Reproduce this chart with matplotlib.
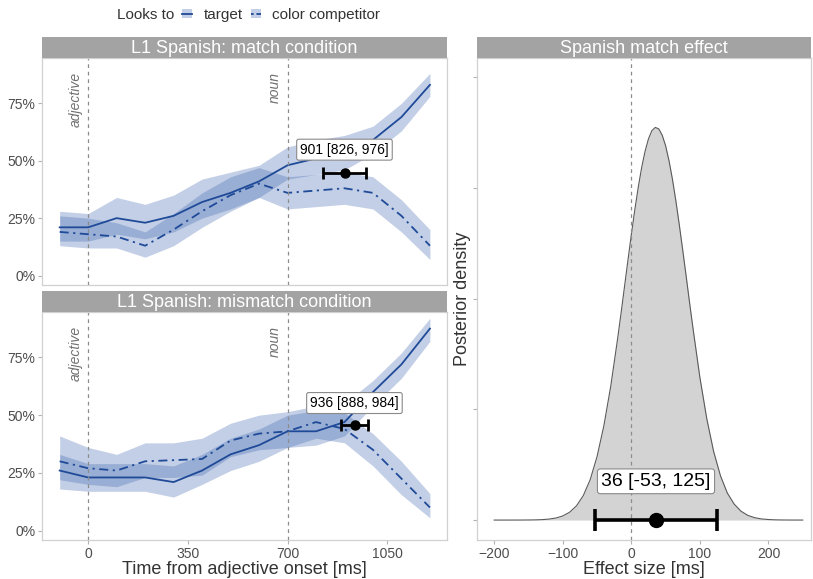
import numpy as np
import matplotlib
matplotlib.use("Agg")
import matplotlib.pyplot as plt
from matplotlib.patches import Patch
from matplotlib.lines import Line2D

plt.rcParams['font.family'] = ['Liberation Sans', 'DejaVu Sans']

# time bins (ms from adjective onset)
t_ms = [-100, 0, 100, 200, 300, 400, 500, 600, 700, 800, 900, 1000, 1100, 1200]

# match condition
match_target = [0.21, 0.21, 0.25, 0.23, 0.26, 0.32, 0.36, 0.41, 0.48, 0.51, 0.53, 0.59, 0.69, 0.83]
match_target_lo = [0.15, 0.15, 0.18, 0.16, 0.19, 0.25, 0.29, 0.34, 0.42, 0.44, 0.46, 0.53, 0.63, 0.78]
match_target_hi = [0.28, 0.27, 0.34, 0.31, 0.35, 0.42, 0.45, 0.48, 0.56, 0.59, 0.61, 0.65, 0.75, 0.88]
match_comp = [0.19, 0.18, 0.17, 0.13, 0.20, 0.28, 0.35, 0.40, 0.36, 0.37, 0.38, 0.36, 0.26, 0.13]
match_comp_lo = [0.13, 0.12, 0.12, 0.08, 0.13, 0.21, 0.28, 0.34, 0.29, 0.30, 0.31, 0.29, 0.19, 0.07]
match_comp_hi = [0.26, 0.25, 0.23, 0.19, 0.27, 0.36, 0.43, 0.47, 0.43, 0.44, 0.45, 0.43, 0.33, 0.20]

# mismatch condition
mis_target = [0.26, 0.23, 0.23, 0.23, 0.21, 0.26, 0.33, 0.37, 0.43, 0.43, 0.47, 0.60, 0.72, 0.875]
mis_target_lo = [0.18, 0.17, 0.17, 0.17, 0.145, 0.20, 0.26, 0.30, 0.36, 0.37, 0.41, 0.54, 0.66, 0.82]
mis_target_hi = [0.33, 0.29, 0.29, 0.29, 0.28, 0.33, 0.40, 0.44, 0.50, 0.52, 0.55, 0.65, 0.77, 0.92]
mis_comp = [0.30, 0.27, 0.26, 0.30, 0.305, 0.31, 0.39, 0.42, 0.43, 0.47, 0.44, 0.35, 0.225, 0.10]
mis_comp_lo = [0.22, 0.20, 0.19, 0.23, 0.23, 0.24, 0.32, 0.35, 0.36, 0.40, 0.38, 0.28, 0.155, 0.055]
mis_comp_hi = [0.41, 0.36, 0.33, 0.38, 0.38, 0.40, 0.465, 0.50, 0.515, 0.54, 0.51, 0.42, 0.30, 0.16]

# divergence point estimates [ms]: estimate, lower, upper
match_div = [901, 826, 976]
mis_div = [936, 888, 984]
match_div_y = 0.4485
mis_div_y = 0.458

# posterior of the match effect (density in 1e-3 units)
eff_x = [-200, -190, -180, -170, -160, -150, -140, -130, -120, -110,
         -100, -90, -80, -70, -60, -50, -40, -30, -20, -15,
         -10, -5, 0, 5, 10, 15, 20, 25, 30, 35,
         40, 45, 50, 55, 60, 65, 70, 75, 80, 85,
         90, 100, 110, 120, 130, 140, 150, 160, 170, 180,
         190, 200, 210, 220, 230, 240, 250]
eff_dens = [0.0, 0.0, 0.0001, 0.0003, 0.0007, 0.0017, 0.0042, 0.0098, 0.022, 0.046,
            0.092, 0.176, 0.32, 0.553, 0.91, 1.43, 2.13, 3.02, 4.09, 4.665,
            5.26, 5.854, 6.44, 6.993, 7.50, 7.95, 8.32, 8.604, 8.79, 8.863,
            8.83, 8.689, 8.45, 8.109, 7.69, 7.202, 6.66, 6.089, 5.50, 4.901,
            4.32, 3.22, 2.29, 1.55, 1.00, 0.61, 0.36, 0.199, 0.105, 0.053,
            0.025, 0.012, 0.005, 0.002, 0.0008, 0.0003, 0.0001]
effect = [36, -53, 125]

line_c = '#1f4a98'
fill_c = '#3a62ad'
strip_c = '#a3a3a3'
border_c = '#d0d0d0'
tick_c = '#4d4d4d'
title_c = '#333333'

W, H = 813, 579
fig = plt.figure(figsize=(W / 100, H / 100), dpi=100)


def box(x0, y0, x1, y1):
    return [x0 / W, 1 - y1 / H, (x1 - x0) / W, (y1 - y0) / H]


def strip(x0, y0, x1, y1, label):
    s = fig.add_axes(box(x0, y0, x1, y1))
    s.set_facecolor(strip_c)
    for sp in s.spines.values():
        sp.set_visible(False)
    s.set_xticks([])
    s.set_yticks([])
    s.text(0.5, 0.47, label, color='white', fontsize=13, ha='center', va='center',
           transform=s.transAxes)


def style(ax):
    for sp in ax.spines.values():
        sp.set_color(border_c)
        sp.set_linewidth(0.9)
    ax.tick_params(colors='#b3b3b3', labelcolor=tick_c, labelsize=10, length=3,
                   width=0.8, pad=1.8)


def time_panel(ax, tg, tg_lo, tg_hi, cp, cp_lo, cp_hi, div, div_y, lab_y, lab_x):
    ax.fill_between(t_ms, tg_lo, tg_hi, color=fill_c, alpha=0.3, lw=0)
    ax.fill_between(t_ms, cp_lo, cp_hi, color=fill_c, alpha=0.3, lw=0)
    ax.plot(t_ms, tg, color=line_c, lw=1.3)
    ax.plot(t_ms, cp, color=line_c, lw=1.3, dashes=(5, 2.5, 1.2, 2.5))
    for xv, name in [(0, 'adjective'), (700, 'noun')]:
        ax.axvline(xv, color='#8c8c8c', lw=0.9, ls=(0, (3, 3)))
        ax.text(xv - 45, 0.885, name, rotation=90, style='italic', color='#707070',
                fontsize=10, ha='center', va='top')
    est, lo, hi = div
    ax.errorbar([est], [div_y], xerr=[[est - lo], [hi - est]], fmt='o', color='black',
                ms=6.5, elinewidth=2, capsize=4, capthick=2, zorder=5)
    ax.text(lab_x, lab_y, f'{est} [{lo}, {hi}]', fontsize=10, ha='center', va='center',
            bbox=dict(boxstyle='round,pad=0.25,rounding_size=0.15', fc='white',
                      ec='#8a8a8a', lw=0.8), zorder=6)
    ax.set_xlim(-162, 1260)
    ax.set_ylim(-0.041, 0.947)
    ax.set_yticks([0, 0.25, 0.5, 0.75])
    ax.set_yticklabels(['0%', '25%', '50%', '75%'])
    ax.set_xticks([0, 350, 700, 1050])
    style(ax)


ax1 = fig.add_axes(box(42, 58, 447, 285))
time_panel(ax1, match_target, match_target_lo, match_target_hi,
           match_comp, match_comp_lo, match_comp_hi, match_div, match_div_y, 0.548, 900)
ax1.tick_params(axis='x', bottom=False, labelbottom=False)
strip(42, 37, 447, 58, 'L1 Spanish: match condition')

ax2 = fig.add_axes(box(42, 312, 447, 540))
time_panel(ax2, mis_target, mis_target_lo, mis_target_hi,
           mis_comp, mis_comp_lo, mis_comp_hi, mis_div, mis_div_y, 0.5525, 935)
ax2.set_xlabel('Time from adjective onset [ms]', fontsize=13, color=title_c, labelpad=0)
strip(42, 291, 447, 312, 'L1 Spanish: mismatch condition')

# effect posterior
ax3 = fig.add_axes(box(477, 58, 811, 540))
ax3.fill_between(eff_x, 0, eff_dens, color='#d3d3d3', lw=0)
ax3.plot(eff_x, eff_dens, color='#5a5a5a', lw=0.8)
ax3.axvline(0, color='#8c8c8c', lw=0.9, ls=(0, (3, 3)))
est, lo, hi = effect
ax3.errorbar([est], [0], xerr=[[est - lo], [hi - est]], fmt='o', color='black',
             ms=10, elinewidth=2.6, capsize=8, capthick=2.6, zorder=5)
ax3.text(est, 0.875, f'{est} [{lo}, {hi}]', fontsize=14, ha='center', va='center',
         bbox=dict(boxstyle='round,pad=0.2,rounding_size=0.15', fc='white',
                   ec='#8a8a8a', lw=0.8), zorder=6)
ax3.set_xlim(-225, 262)
ax3.set_ylim(-0.45, 10.43)
ax3.set_xticks([-200, -100, 0, 100, 200])
ax3.set_yticks([0, 2.5, 5, 7.5, 10])
ax3.set_yticklabels([])
style(ax3)
ax3.set_xlabel('Effect size [ms]', fontsize=13, color=title_c, labelpad=0)
ax3.set_ylabel('Posterior density', fontsize=13, color=title_c)
ax3.yaxis.set_label_coords(-0.018, 0.5)
strip(477, 37, 811, 58, 'Spanish match effect')

# legend
fig.text(117 / W, 1 - 15 / H, 'Looks to', fontsize=11, color=title_c, va='center')
h_target = (Patch(facecolor=fill_c, alpha=0.3, lw=0), Line2D([], [], color=line_c, lw=1.3))
h_comp = (Patch(facecolor=fill_c, alpha=0.3, lw=0),
          Line2D([], [], color=line_c, lw=1.3, dashes=(1.5, 1.5, 3, 1.5)))
fig.legend([h_target, h_comp], ['target', 'color competitor'], ncol=2,
           loc='center left', bbox_to_anchor=(182 / W, 1 - 15 / H), frameon=False,
           fontsize=11, handlelength=0.65, handleheight=0.6, handletextpad=0.75,
           columnspacing=0.55, borderpad=0, borderaxespad=0, labelcolor=title_c)

fig.savefig('out.png', dpi=100)
